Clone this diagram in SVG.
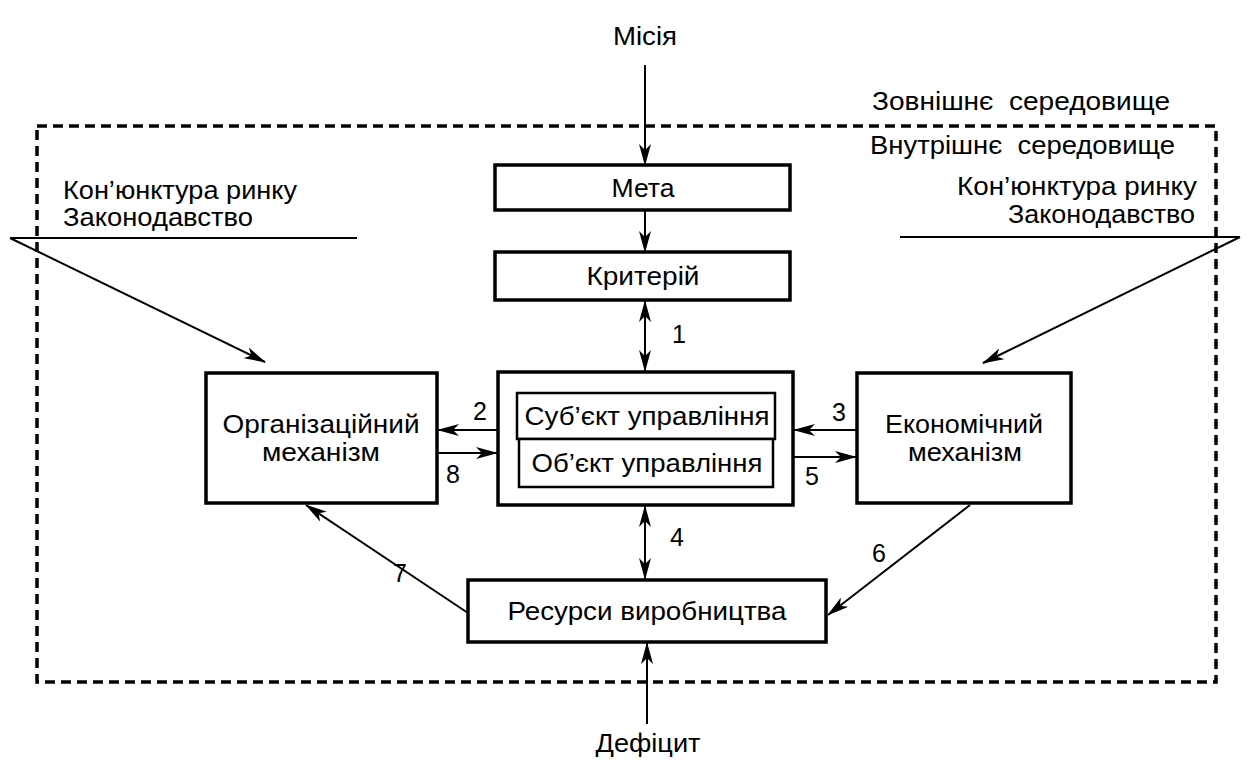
<svg xmlns="http://www.w3.org/2000/svg" width="1250" height="769" viewBox="0 0 1250 769">
<defs>
<marker id="ah" markerWidth="22" markerHeight="12" refX="21" refY="6" orient="auto-start-reverse" markerUnits="userSpaceOnUse">
<path d="M0,0 L22,6 L0,12 L6,6 z" fill="#000"/>
</marker>
</defs>
<style>
text{font-family:"Liberation Sans",Arial,sans-serif;font-size:25px;fill:#000}
.c{text-anchor:middle}
.e{text-anchor:end}
.pre{white-space:pre}
.box{fill:#fff;stroke:#000;stroke-width:3.5}
.in{fill:#fff;stroke:#000;stroke-width:2.5}
.ln{fill:none;stroke:#000;stroke-width:2}
.ar{fill:none;stroke:#000;stroke-width:2;marker-end:url(#ah)}
.ar2{fill:none;stroke:#000;stroke-width:2;marker-end:url(#ah);marker-start:url(#ah)}
.num{font-size:25px}
</style>
<rect width="1250" height="769" fill="#fff"/>
<g id="environment">
<rect x="37" y="126" width="1179" height="556" fill="none" stroke="#000" stroke-width="3.5" stroke-dasharray="10,6"/>
<text class="pre" x="872" y="110" textLength="298" lengthAdjust="spacingAndGlyphs">Зовнішнє  середовище</text>
<text class="pre" x="870" y="154" textLength="305" lengthAdjust="spacingAndGlyphs">Внутрішнє  середовище</text>
</g>
<g id="mission"><text class="c" x="645" y="45" textLength="64" lengthAdjust="spacingAndGlyphs">Місія</text></g>
<g id="deficit"><text class="c" x="648" y="752" textLength="105" lengthAdjust="spacingAndGlyphs">Дефіцит</text></g>
<g id="ext-left">
<text x="63" y="199" textLength="234" lengthAdjust="spacingAndGlyphs">Кон’юнктура ринку</text>
<text x="63" y="226" textLength="190" lengthAdjust="spacingAndGlyphs">Законодавство</text>
</g>
<g id="ext-right">
<text class="e" x="1197" y="195" textLength="240" lengthAdjust="spacingAndGlyphs">Кон’юнктура ринку</text>
<text class="e" x="1195" y="223" textLength="187" lengthAdjust="spacingAndGlyphs">Законодавство</text>
</g>
<g id="connectors">
<line class="ar" x1="645" y1="65" x2="645" y2="165"/>
<line class="ar" x1="645" y1="210" x2="645" y2="252"/>
<line class="ar2" x1="645" y1="301" x2="645" y2="371"/>
<line class="ar" x1="498" y1="430" x2="438" y2="430"/>
<line class="ar" x1="437" y1="453" x2="497" y2="453"/>
<line class="ar" x1="857" y1="430" x2="794" y2="430"/>
<line class="ar" x1="793" y1="457" x2="856" y2="457"/>
<line class="ar2" x1="645" y1="506" x2="645" y2="579"/>
<line class="ar" x1="970" y1="505" x2="828" y2="615"/>
<line class="ar" x1="468" y1="613" x2="306" y2="505"/>
<line class="ar" x1="647" y1="724" x2="647" y2="643"/>
<polyline class="ln" points="357,238 10,238"/>
<line class="ar" x1="10" y1="238" x2="265" y2="362"/>
<polyline class="ln" points="900,237 1240,237"/>
<line class="ar" x1="1240" y1="237" x2="983" y2="363"/>
<text class="num" x="672" y="343">1</text>
<text class="num" x="473" y="420">2</text>
<text class="num" x="446" y="483">8</text>
<text class="num" x="832" y="421">3</text>
<text class="num" x="805" y="485">5</text>
<text class="num" x="670" y="546">4</text>
<text class="num" x="872" y="562">6</text>
<text class="num" x="393" y="582">7</text>
</g>
<g id="meta">
<rect class="box" x="495" y="165" width="295" height="45"/>
<text class="c" x="643" y="197" textLength="63" lengthAdjust="spacingAndGlyphs">Мета</text>
</g>
<g id="kryterii">
<rect class="box" x="495" y="252" width="295" height="48"/>
<text class="c" x="643" y="285" textLength="113" lengthAdjust="spacingAndGlyphs">Критерій</text>
</g>
<g id="system">
<rect class="box" x="498" y="372" width="295" height="133"/>
</g>
<g id="subject">
<rect class="in" x="517" y="393" width="258" height="46"/>
<text class="c" x="647" y="425" textLength="245" lengthAdjust="spacingAndGlyphs">Суб’єкт управління</text>
</g>
<g id="object">
<rect class="in" x="519" y="439" width="254" height="48"/>
<text class="c" x="647" y="472" textLength="231" lengthAdjust="spacingAndGlyphs">Об’єкт управління</text>
</g>
<g id="org">
<rect class="box" x="206" y="373" width="231" height="130"/>
<text class="c" x="321" y="433" textLength="197" lengthAdjust="spacingAndGlyphs">Організаційний</text>
<text class="c" x="321" y="461" textLength="118" lengthAdjust="spacingAndGlyphs">механізм</text>
</g>
<g id="econ">
<rect class="box" x="857" y="373" width="214" height="130"/>
<text class="c" x="964" y="433" textLength="158" lengthAdjust="spacingAndGlyphs">Економічний</text>
<text class="c" x="965" y="461" textLength="114" lengthAdjust="spacingAndGlyphs">механізм</text>
</g>
<g id="resources">
<rect class="box" x="468" y="580" width="358" height="62"/>
<text class="c" x="647" y="620" textLength="279" lengthAdjust="spacingAndGlyphs">Ресурси виробництва</text>
</g>
</svg>
